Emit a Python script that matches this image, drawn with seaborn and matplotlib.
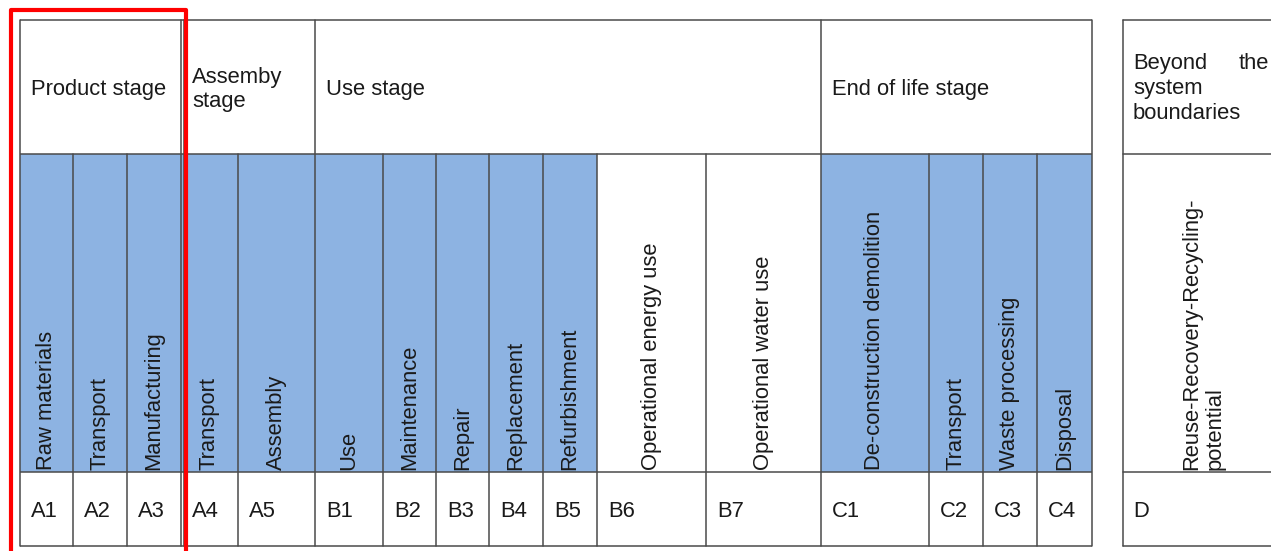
import matplotlib
matplotlib.use("Agg")
import matplotlib.pyplot as plt
from matplotlib.patches import Rectangle
import seaborn as sns

# ---- table content ----
stages = ["Product stage", "Assemby\nstage", "Use stage", "End of life stage"]
stage_sizes = [3, 2, 7, 4]
modules = ["Raw materials", "Transport", "Manufacturing", "Transport", "Assembly",
           "Use", "Maintenance", "Repair", "Replacement", "Refurbishment",
           "Operational energy use", "Operational water use",
           "De-construction demolition", "Transport", "Waste processing", "Disposal"]
codes = ["A1", "A2", "A3", "A4", "A5", "B1", "B2", "B3", "B4", "B5", "B6", "B7",
         "C1", "C2", "C3", "C4"]
shaded = [1, 1, 1, 1, 1, 1, 1, 1, 1, 1, 0, 0, 1, 1, 1, 1]
beyond_stage = ["Beyond", "the", "system", "boundaries"]
beyond_module = "Reuse-Recovery-Recycling-\npotential"
beyond_code = "D"

# ---- layout (pixels) ----
col_edges = [20, 73, 127, 181, 238, 315, 383, 436, 489, 543, 597, 706, 821, 929, 983, 1037, 1092]
row_edges = [20, 154, 472, 546]
d_left, d_right = 1123, 1300

sns.set_theme(style="white")
plt.rcParams["font.family"] = ["Liberation Sans", "DejaVu Sans"]

W, H = 1271, 551
fig = plt.figure(figsize=(W / 100, H / 100), dpi=100)
ax = fig.add_axes([0, 0, 1, 1])
ax.set_xlim(0, W)
ax.set_ylim(H, 0)
ax.axis("off")

FS = 15.8
TXT = "#1a1a1a"
LINE = "#4a4a4a"
BLUE = "#8DB3E2"
LW = 1.1

# blue cells
for i, s in enumerate(shaded):
    if s:
        ax.add_patch(Rectangle((col_edges[i], row_edges[1]),
                               col_edges[i + 1] - col_edges[i],
                               row_edges[2] - row_edges[1],
                               facecolor=BLUE, edgecolor="none", zorder=1))

# horizontal lines main table
for y in row_edges:
    ax.plot([col_edges[0], col_edges[-1]], [y, y], color=LINE, lw=LW, zorder=2,
            solid_capstyle="butt")

# stage boundaries (full height) and module boundaries (lower rows)
stage_bounds = [0]
for n in stage_sizes:
    stage_bounds.append(stage_bounds[-1] + n)
for i, x in enumerate(col_edges):
    if i in stage_bounds:
        ax.plot([x, x], [row_edges[0], row_edges[3]], color=LINE, lw=LW, zorder=2)
    else:
        ax.plot([x, x], [row_edges[1], row_edges[3]], color=LINE, lw=LW, zorder=2)
# double line between product and assembly stage
ax.plot([col_edges[3] + 2.5] * 2, [row_edges[0], row_edges[3]], color=LINE, lw=LW, zorder=2)

# stage headers
hy = (row_edges[0] + row_edges[1]) / 2 + 2.5
for k, name in enumerate(stages):
    x0 = col_edges[stage_bounds[k]]
    ax.text(x0 + 11, hy, name, fontsize=FS, color=TXT, ha="left", va="center",
            linespacing=1.2, zorder=3)

# modules (rotated)
for i, m in enumerate(modules):
    xc = (col_edges[i] + col_edges[i + 1]) / 2
    ax.text(xc, row_edges[2] - 2, m, rotation=90, fontsize=FS, color=TXT,
            ha="center", va="bottom", zorder=3)

# codes
cy = (row_edges[2] + row_edges[3]) / 2 + 2.5
for i, c in enumerate(codes):
    ax.text(col_edges[i] + 11, cy, c, fontsize=FS, color=TXT, ha="left", va="center", zorder=3)

# beyond system boundaries box
for y in row_edges:
    ax.plot([d_left, d_right], [y, y], color=LINE, lw=LW, zorder=2)
ax.plot([d_left, d_left], [row_edges[0], row_edges[3]], color=LINE, lw=LW, zorder=2)
ax.text(d_left + 10, 69, beyond_stage[0], fontsize=FS, color=TXT, ha="left", va="baseline")
ax.text(1269, 69, beyond_stage[1], fontsize=FS, color=TXT, ha="right", va="baseline")
ax.text(d_left + 10, 94, beyond_stage[2], fontsize=FS, color=TXT, ha="left", va="baseline")
ax.text(d_left + 10, 119, beyond_stage[3], fontsize=FS, color=TXT, ha="left", va="baseline")
ax.text(1203, row_edges[2] - 2, beyond_module, rotation=90, fontsize=FS, color=TXT,
        ha="center", va="bottom", multialignment="left", linespacing=1.15, zorder=3)
ax.text(d_left + 10, cy, beyond_code, fontsize=FS, color=TXT, ha="left", va="center")

# red highlight frame
ax.plot([10.5, 10.5, 185.5, 185.5], [560, 9.5, 9.5, 560], color="#FF0000", lw=3.0,
        solid_joinstyle="round", zorder=4)

fig.savefig("out.png", dpi=100, facecolor="white")
